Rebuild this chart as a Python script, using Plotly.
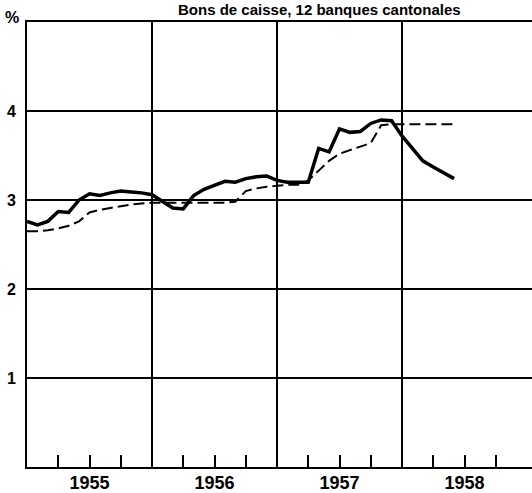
import numpy as np
import plotly.graph_objects as go

# données mensuelles (janvier 1955 = 0)
mois_solide = np.arange(0, 42)
taux_solide = [2.76, 2.72, 2.76, 2.87, 2.86, 3.00, 3.07, 3.05, 3.08, 3.10, 3.09, 3.08,
               3.06, 2.98, 2.91, 2.90, 3.05, 3.12, 3.17, 3.21, 3.20, 3.24, 3.26, 3.27,
               3.22, 3.20, 3.20, 3.20, 3.58, 3.54, 3.80, 3.76, 3.77, 3.86, 3.90, 3.89,
               3.72, 3.58, 3.44, 3.37, 3.31, 3.24]

mois_tirets = np.arange(0, 42)
taux_tirets = [2.65, 2.65, 2.66, 2.68, 2.71, 2.76, 2.86, 2.89, 2.91, 2.93, 2.95, 2.96,
               2.97, 2.97, 2.97, 2.97, 2.97, 2.97, 2.97, 2.97, 2.98, 3.10, 3.13, 3.15,
               3.16, 3.17, 3.17, 3.22, 3.33, 3.44, 3.52, 3.56, 3.60, 3.64, 3.84, 3.85,
               3.85, 3.85, 3.85, 3.85, 3.85, 3.85]

annees = [1955, 1956, 1957, 1958]
trimestres = [a + q / 4 for a in annees for q in (1, 2, 3)]
y_ticks = [1, 2, 3, 4]

police = "Liberation Sans, Arial, sans-serif"

fig = go.Figure()
fig.add_trace(go.Scatter(
    x=1955 + mois_tirets / 12, y=taux_tirets, mode="lines",
    line=dict(color="black", width=2, dash="11px,5px"), showlegend=False,
))
fig.add_trace(go.Scatter(
    x=1955 + mois_solide / 12, y=taux_solide, mode="lines",
    line=dict(color="black", width=3.5), showlegend=False,
))
# axe fantôme pour les étiquettes d'années
fig.add_trace(go.Scatter(x=[1955], y=[0], xaxis="x2", mode="markers",
                         marker=dict(opacity=0), showlegend=False, hoverinfo="skip"))

fig.update_layout(
    width=532, height=493,
    margin=dict(l=27, r=0, t=22, b=26, autoexpand=False),
    plot_bgcolor="white", paper_bgcolor="white",
    font=dict(family=police, color="black"),
    xaxis=dict(
        range=[1955, 1959.04], tickvals=annees, ticktext=[""] * 4,
        showgrid=True, gridcolor="black", gridwidth=1.5,
        showline=True, linecolor="black", linewidth=2, mirror=True,
        ticks="", zeroline=False, automargin=False,
        minor=dict(tickvals=trimestres, ticks="inside", ticklen=12,
                   tickcolor="black", tickwidth=1.5, showgrid=False),
    ),
    xaxis2=dict(
        overlaying="x", matches="x", side="bottom", automargin=False,
        tickvals=[a + 0.5 for a in annees], ticktext=[f"<b>{a}</b>" for a in annees],
        ticks="", showgrid=False, showline=False, zeroline=False,
        tickfont=dict(size=18, family=police), ticklabelstandoff=3,
    ),
    yaxis=dict(
        range=[0, 5], tickvals=y_ticks, ticktext=[f"<b>{v}</b>" for v in y_ticks],
        showgrid=True, gridcolor="black", gridwidth=1.5,
        showline=True, linecolor="black", linewidth=2, mirror=False,
        ticks="", zeroline=False, automargin=False,
        tickfont=dict(size=16, family=police), ticklabelstandoff=6,
    ),
    annotations=[
        dict(text="<b>Bons de caisse, 12 banques cantonales</b>", xref="paper", yref="paper",
             x=0.58, y=1, xanchor="center", yanchor="middle", yshift=13, showarrow=False,
             font=dict(size=15, family=police)),
        dict(text="<b>%</b>", xref="paper", yref="paper", x=-0.03, y=1,
             xanchor="center", yanchor="bottom", yshift=-6, showarrow=False,
             font=dict(size=16, family=police)),
    ],
)

fig.write_html("out.html", config={"displayModeBar": False},
               post_script="document.body.style.margin='0';")
